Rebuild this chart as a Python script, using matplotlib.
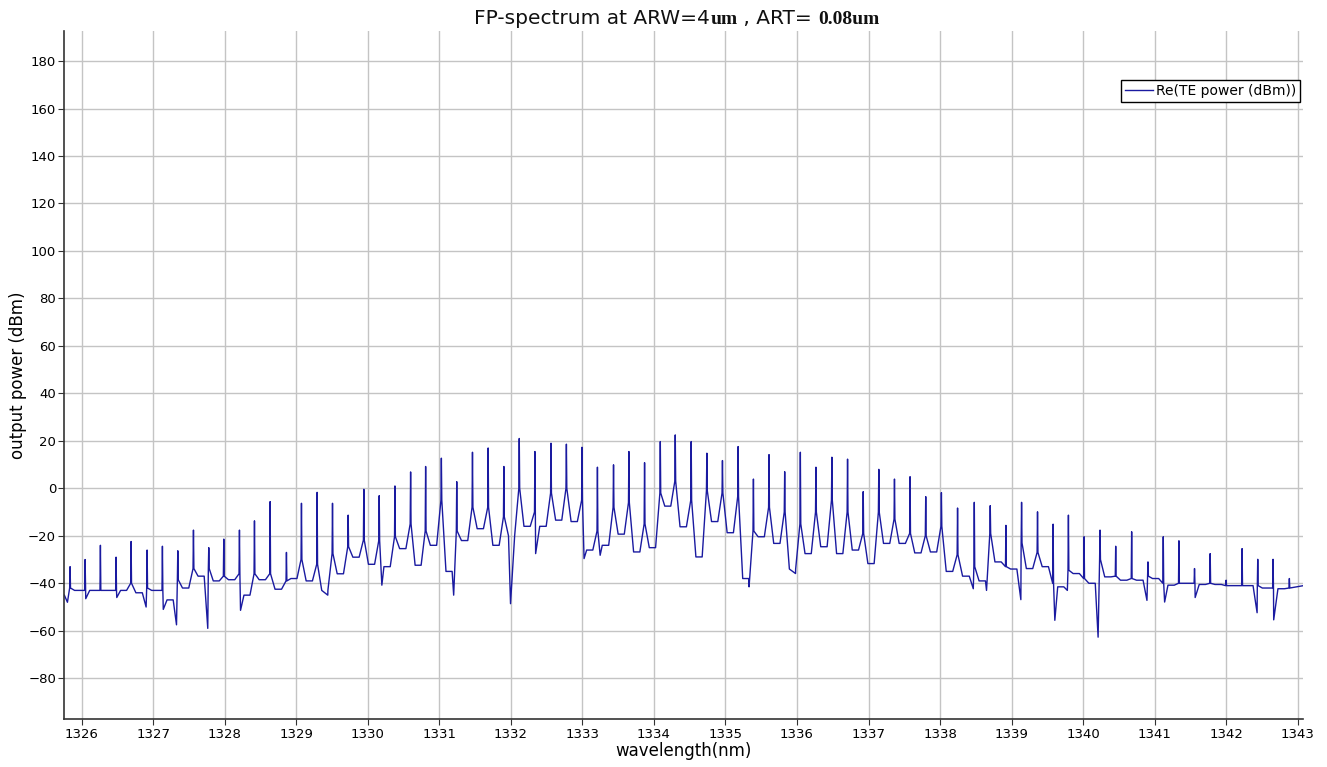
import numpy as np
import matplotlib.pyplot as plt

# peak wavelengths (nm), peak tops and shoulder levels (dBm)
peak_nm = [1325.837, 1326.047, 1326.261, 1326.480, 1326.690, 1326.914, 1327.128, 1327.343,
           1327.562, 1327.776, 1327.986, 1328.205, 1328.415, 1328.634, 1328.862, 1329.072,
           1329.291, 1329.506, 1329.725, 1329.944, 1330.159, 1330.379, 1330.598, 1330.808,
           1331.028, 1331.243, 1331.463, 1331.682, 1331.902, 1332.117, 1332.336, 1332.561,
           1332.776, 1332.995, 1333.210, 1333.435, 1333.650, 1333.869, 1334.089, 1334.298,
           1334.521, 1334.740, 1334.958, 1335.177, 1335.391, 1335.609, 1335.828, 1336.047,
           1336.265, 1336.488, 1336.707, 1336.926, 1337.144, 1337.363, 1337.581, 1337.800,
           1338.019, 1338.245, 1338.479, 1338.702, 1338.921, 1339.140, 1339.363, 1339.581,
           1339.795, 1340.014, 1340.237, 1340.456, 1340.679, 1340.907, 1341.121, 1341.340,
           1341.558, 1341.777, 1342.000, 1342.223, 1342.442, 1342.656, 1342.884]
peak_top = [-33, -30, -24, -29, -22.4, -26, -24.4, -26.3,
            -17.6, -25, -21.4, -17.6, -13.7, -5.6, -27, -6.3,
            -1.7, -6.3, -11.3, -0.4, -3.1, 1.0, 6.9, 9.2,
            12.7, 2.8, 15.2, 17.0, 9.2, 21, 15.5, 19,
            18.6, 17.3, 8.9, 9.9, 15.5, 10.8, 19.7, 22.5,
            19.7, 14.8, 11.7, 17.6, 3.9, 14.2, 7.0, 15.2,
            8.9, 13.1, 12.3, -1.4, 8.0, 3.9, 4.9, -3.5,
            -1.8, -8.3, -5.9, -7.3, -15.6, -5.9, -9.9, -15.1,
            -11.3, -20.4, -17.6, -24.4, -18.3, -31, -20.4, -22.1,
            -33.8, -27.5, -38.7, -25.4, -29.9, -29.9, -38]
peak_sh = [-42, -43, -43, -43, -40, -42, -43, -38.5,
           -33.8, -33.8, -37, -36, -36, -36, -39, -30,
           -32, -27.5, -24.6, -21.8, -22, -20.4, -15, -18,
           -5, -18, -8, -8, -12, 0, -10, -2,
           0, -5, -18, -8, -6, -15, -2, 3,
           -5, -1, -2, -3.5, -18, -8, -10, -15,
           -10, -5, -10, -19, -10, -13, -19, -20,
           -16, -28, -33, -19, -33, -23, -27, -40,
           -34.5, -38, -30, -37, -38, -37, -40, -40,
           -40, -40, -41, -41, -41, -42, -42]

# level between neighbouring peaks
valley = [-43, -43, -43, -43, -44, -43, -47, -42, -37, -39,
          -38.5, -45, -38.5, -42.5, -38, -39, -43, -36, -29, -32,
          -33, -25.4, -32.4, -24, -35, -22, -17, -24, -20, -16,
          -16, -13.4, -14, -26, -24, -19.3, -26.8, -25, -7.5, -16.2,
          -28.9, -14, -18.7, -38, -20.4, -23.2, -34, -27.5, -24.6, -27.5,
          -26, -31.7, -23.2, -23.2, -27.2, -26.8, -35, -37, -39, -31,
          -34, -33.8, -33, -41.5, -35.9, -40, -37.3, -38.7, -38.7, -38,
          -40.8, -40, -40.5, -40.5, -41, -41, -42, -42.3]

# narrow downward spikes
dip_nm = [1325.80, 1326.056, 1326.49, 1326.90, 1327.14, 1327.325, 1327.762, 1328.22,
          1329.44, 1330.196, 1331.20, 1331.995, 1332.346, 1333.023, 1333.248, 1335.33,
          1335.98, 1338.465, 1338.65, 1339.13, 1339.605, 1339.78, 1340.21, 1340.893,
          1341.14, 1341.567, 1342.433, 1342.665]
dip_db = [-48, -46.5, -46, -50, -51, -57.5, -59, -51.4,
          -45, -40.8, -45, -48.6, -27.5, -29.6, -28.2, -41.5,
          -35.9, -42.3, -43, -46.9, -55.6, -43, -62.7, -47.2,
          -47.9, -46, -52.4, -55.4]

start_pt = (1325.757, -45)
end_pt = (1343.08, -41)

# assemble trace vertices
pts = [start_pt, end_pt]
for i, (x, top, sh) in enumerate(zip(peak_nm, peak_top, peak_sh)):
    pts += [(x - 0.006, sh), (x, top), (x + 0.006, sh)]
    if i < len(valley):
        gap = peak_nm[i + 1] - x
        pts += [(x + 0.3 * gap, valley[i]), (x + 0.7 * gap, valley[i])]
pts += list(zip(dip_nm, dip_db))
pts.sort(key=lambda p: p[0])
wl = np.array([p[0] for p in pts])
pw = np.array([p[1] for p in pts])

fig = plt.figure(figsize=(13.27, 7.67), dpi=100)
ax = fig.add_axes([0.0485, 0.0622, 0.9337, 0.8978])

ax.plot(wl, pw, color='#1a1aa0', lw=1.0, label='Re(TE power (dBm))')

ax.set_xlim(1325.757, 1343.08)
ax.set_ylim(-97.3, 192.8)
ax.set_xticks(np.arange(1326, 1344, 1))
ax.set_yticks(np.arange(-80, 181, 20))
ax.grid(True, color='#c4c4c4', lw=1)
ax.set_axisbelow(True)
for s in ['top', 'right']:
    ax.spines[s].set_visible(False)
ax.spines['left'].set_color('#333333')
ax.spines['bottom'].set_color('#333333')
ax.spines['left'].set_linewidth(1.2)
ax.spines['bottom'].set_linewidth(1.2)
ax.tick_params(labelsize=9.5, length=4, color='#333333', pad=2)

ax.set_xlabel('wavelength(nm)', fontsize=12, labelpad=1)
ax.set_ylabel('output power (dBm)', fontsize=12, labelpad=1)

# title with mixed fonts, pieces chained left to right
t1 = ax.text(0.331, 1.0097, 'FP-spectrum at ARW=4', transform=ax.transAxes,
             fontsize=14.5, va='baseline', ha='left', color='#111111')
t2 = ax.annotate('um', xy=(1, 0), xycoords=t1, va='bottom', ha='left',
                 fontsize=14, fontweight='bold', family='Liberation Serif', color='#111111')
t3 = ax.annotate(' , ART= ', xy=(1, 0), xycoords=t2, va='bottom', ha='left',
                 fontsize=14.5, color='#111111')
t4 = ax.annotate('0.08um', xy=(1, 0), xycoords=t3, va='bottom', ha='left',
                 fontsize=14, fontweight='bold', family='Liberation Serif', color='#111111')

leg = ax.legend(loc='upper right', bbox_to_anchor=(0.9973, 0.9284), fontsize=10,
                fancybox=False, edgecolor='black', framealpha=1, handlelength=2,
                handletextpad=0.2, borderpad=0.3, borderaxespad=0)
leg.get_frame().set_linewidth(1.0)

plt.savefig('out.png', dpi=100)
